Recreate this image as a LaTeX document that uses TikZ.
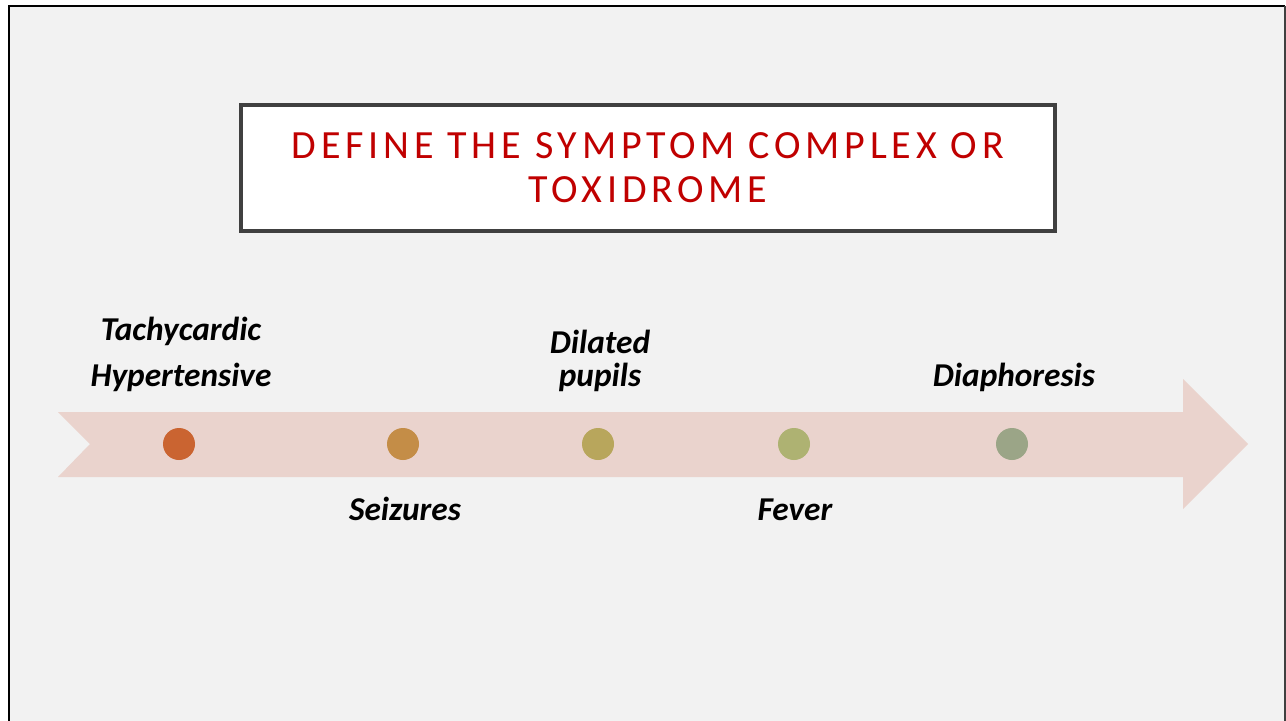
\documentclass[tikz,border=0pt]{standalone}
\usepackage{fontspec}
\usepackage{xcolor}
\setmainfont{Carlito}
\newfontfamily\titlefont[LetterSpace=12]{Carlito}
\definecolor{slidebg}{HTML}{F2F2F2}
\definecolor{framegray}{HTML}{404040}
\definecolor{titlered}{HTML}{C00000}
\definecolor{band}{HTML}{EAD3CD}
\definecolor{dotA}{HTML}{CA6431}
\definecolor{dotB}{HTML}{C48D47}
\definecolor{dotC}{HTML}{B8A65C}
\definecolor{dotD}{HTML}{AEB272}
\definecolor{dotE}{HTML}{9BA587}

\begin{document}
\begin{tikzpicture}[x=0.75pt,y=-0.75pt,
		symptom/.style={font=\fontsize{25}{27}\selectfont\bfseries\itshape, align=center, inner sep=0pt},
		stage/.style={circle, minimum size=24pt, inner sep=0pt}]
		% Slide and frame
		\useasboundingbox (0,0) rectangle (1286,721);
		\fill[white] (0,0) rectangle (1286,721);
		\fill[slidebg] (9,6) rectangle (1285,725);
		\draw[line width=2.2pt] (9,725) -- (9,6) -- (1285,6);
		\draw[line width=1.2pt, framegray] (1285,6) -- (1285,725);

		% Title box
		\node[draw=framegray, line width=2.4pt, fill=white, minimum width=610.5pt, minimum height=94.5pt, inner sep=0pt] (title) at (648,168) {};
		\node[text=titlered, font=\titlefont\fontsize{30}{33}\selectfont, align=center, anchor=base] (titletext) at (648,202) {DEFINE THE SYMPTOM COMPLEX OR\\[-0.5pt]TOXIDROME};

		% Timeline arrow
		\fill[band] (58,412) -- (1183,412) -- (1183,379) -- (1248,444) -- (1183,509) -- (1183,477) -- (58,477) -- (90,444) -- cycle;

		% Stages on the arrow
		\node[stage, fill=dotA] (tachy) at (179,444) {};
		\node[stage, fill=dotB] (seiz) at (403,444) {};
		\node[stage, fill=dotC] (pupil) at (598,444) {};
		\node[stage, fill=dotD] (fever) at (794,444) {};
		\node[stage, fill=dotE] (diaph) at (1012,444) {};

		% Labels
		\node[symptom, anchor=base] (tachylbl) at (181,340) {Tachycardic};
		\node[symptom, anchor=base] (hyperlbl) at (181,386) {Hypertensive};
		\node[symptom, anchor=base] (dilatlbl) at (600,353) {Dilated};
		\node[symptom, anchor=base] (pupillbl) at (600,386) {pupils};
		\node[symptom, anchor=base] (diaphlbl) at (1014,386) {Diaphoresis};
		\node[symptom, anchor=base] (seizlbl) at (405,520) {Seizures};
		\node[symptom, anchor=base] (feverlbl) at (795,520) {Fever};
	\end{tikzpicture}
\end{document}
